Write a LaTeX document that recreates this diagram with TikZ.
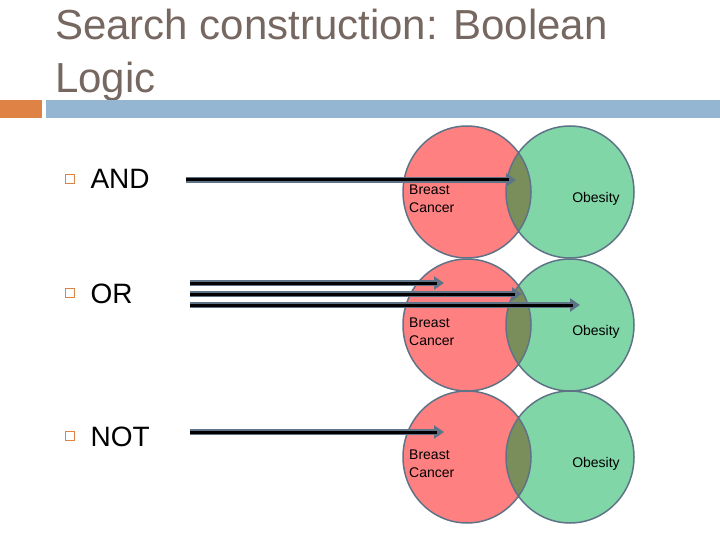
\documentclass[tikz,border=0pt]{standalone}
\usepackage{fontspec}
\setmainfont{Liberation Sans}
\usetikzlibrary{arrows.meta}
\definecolor{titlegray}{RGB}{118,104,96}
\definecolor{barblue}{RGB}{148,182,210}
\definecolor{barorange}{RGB}{222,130,70}
\definecolor{setred}{RGB}{255,128,128}
\definecolor{setgreen}{RGB}{128,214,166}
\definecolor{setboth}{RGB}{122,142,92}
\definecolor{rim}{RGB}{95,115,135}
\begin{document}
\begin{tikzpicture}[x=1pt,y=-1pt]
        \tikzset{Bullet/.style={draw=barorange, line width=1.3pt, minimum size=9pt, inner sep=0pt},
          Item/.style={anchor=base west, font=\fontsize{28}{32}\selectfont},
          SetLabel/.style={font=\fontsize{14}{18}\selectfont, align=left, inner sep=0pt},
          Pointer/.style={draw=rim, line width=6pt, -{Triangle[length=10pt,width=13pt]},
            postaction={draw=black, line width=3pt, shorten >=7pt, -}}}
        \useasboundingbox (0,0) rectangle (720,540);

        \node[anchor=north west, text=titlegray, align=left, inner sep=0pt,
          font=\fontsize{42}{53}\selectfont] (title) at (55,9)
          {Search construction: Boolean\\Logic};
        \fill[barorange] (0,100) rectangle (42,118);
        \fill[barblue] (46,100) rectangle (720,118);

        % the three venn rows
        \foreach \row/\y in {and/192, or/325, not/457} {
          \begin{scope}
            \fill[setred] (467,\y) ellipse (64 and 66);
            \fill[setgreen] (570,\y) ellipse (64 and 66);
            \clip (467,\y) ellipse (64 and 66);
            \fill[setboth] (570,\y) ellipse (64 and 66);
          \end{scope}
          \draw[rim, line width=1.5pt] (467,\y) ellipse (64 and 66) (570,\y) ellipse (64 and 66);
          \node[SetLabel, anchor=north west] (bc\row) at (409,\y-7) {Breast\\Cancer};
          \node[SetLabel] (ob\row) at (596,\y+7) {Obesity};
        }

        \node[Bullet] (b1) at (70,179) {};
        \node[Item] (and) at (87,189) {AND};
        \node[Bullet] (b2) at (70,293) {};
        \node[Item] (or) at (87,303) {OR};
        \node[Bullet] (b3) at (70,436) {};
        \node[Item] (not) at (87,446) {NOT};

        \coordinate (andS) at (186,180);  \coordinate (andE) at (516,180);
        \coordinate (orS1) at (190,283);  \coordinate (orE1) at (444,283);
        \coordinate (orS2) at (190,294);  \coordinate (orE2) at (522,294);
        \coordinate (orS3) at (190,305);  \coordinate (orE3) at (580,305);
        \coordinate (notS) at (190,432);  \coordinate (notE) at (444,432);

        \path[Pointer] (andS) -- (andE);
        \path[Pointer] (orS1) -- (orE1);
        \path[Pointer] (orS2) -- (orE2);
        \path[Pointer] (orS3) -- (orE3);
        \path[Pointer] (notS) -- (notE);
\end{tikzpicture}
\end{document}
